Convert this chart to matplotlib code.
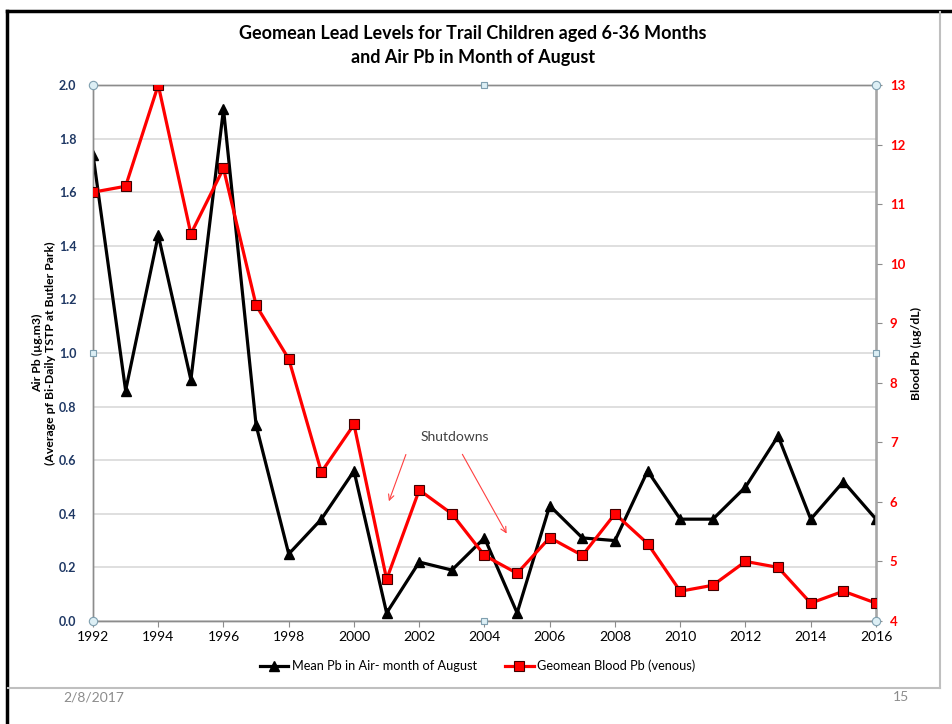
import numpy as np
import matplotlib
matplotlib.use('Agg')
import matplotlib.pyplot as plt
from matplotlib.lines import Line2D

plt.rcParams['font.family'] = ['Lato', 'DejaVu Sans']

'''
DATA
'''
years = list(range(1992, 2017))
air_pb = [1.74, 0.86, 1.44, 0.90, 1.91, 0.73, 0.25, 0.38, 0.56, 0.03,
          0.22, 0.19, 0.31, 0.03, 0.43, 0.31, 0.30, 0.56, 0.38, 0.38,
          0.50, 0.69, 0.38, 0.52, 0.38]
blood_pb = [11.2, 11.3, 13.0, 10.5, 11.6, 9.3, 8.4, 6.5, 7.3, 4.7,
            6.2, 5.8, 5.1, 4.8, 5.4, 5.1, 5.8, 5.3, 4.5, 4.6,
            5.0, 4.9, 4.3, 4.5, 4.3]
left_ticks = [0.0, 0.2, 0.4, 0.6, 0.8, 1.0, 1.2, 1.4, 1.6, 1.8, 2.0]
right_ticks = [4, 5, 6, 7, 8, 9, 10, 11, 12, 13]
x_ticks = list(range(1992, 2017, 2))

W, H = 953, 724
fig = plt.figure(figsize=(W/100, H/100), dpi=100)

def fx(px):
    return px/W

def fy(py):
    return 1 - py/H

ax = fig.add_axes([fx(93), fy(621), fx(876)-fx(93), fy(85)-fy(621)])
ax2 = ax.twinx()

# black series (left axis)
l1, = ax.plot(years, air_pb, color='black', lw=2.3, marker='^', ms=7,
              label='Mean Pb in Air- month of August', zorder=3)
# red series (right axis)
l2, = ax2.plot(years, blood_pb, color='#FF0000', lw=2.3, marker='s', ms=6.5,
               mfc='#FF0000', mec='#400000', mew=0.8,
               label='Geomean Blood Pb (venous)', zorder=3)

ax.set_xlim(1992, 2016)
ax.set_ylim(0, 2.0)
ax2.set_ylim(4, 13)
ax.set_xticks(x_ticks)
ax.set_yticks(left_ticks)
ax.set_yticklabels(['%.1f' % v for v in left_ticks])
ax2.set_yticks(right_ticks)

ax.yaxis.grid(True, color='#D9D9D9', lw=1.2)
ax.set_axisbelow(True)

for a in (ax, ax2):
    for s in a.spines.values():
        s.set_color('#8C8C8C')
        s.set_linewidth(1.0)
ax2.spines['right'].set_linewidth(1.8)
ax2.spines['right'].set_color('#A6A6A6')

ax.tick_params(axis='x', colors='#8C8C8C', labelcolor='black', labelsize=10,
               length=4, direction='out')
ax.tick_params(axis='y', colors='#8C8C8C', labelcolor='#1F3864', labelsize=9,
               length=0, pad=12)
for t in ax.get_yticklabels():
    t.set_fontweight('bold')
ax2.tick_params(axis='y', colors='#8C8C8C', labelcolor='#FF0000', labelsize=9.5,
                length=4, pad=6)
for t in ax2.get_yticklabels():
    t.set_fontweight('bold')

ax.set_ylabel('Air Pb (\u00b5g.m3)\n(Average pf Bi-Daily TSTP at Butler Park)',
              fontsize=8.8, fontweight='bold', labelpad=2, linespacing=1.25)
ax2.set_ylabel('Blood Pb (\u00b5g/dL)', fontsize=8.8, fontweight='bold',
               labelpad=4)

# title
fig.text(fx(473), fy(45), 'Geomean Lead Levels for Trail Children aged 6-36 Months\nand Air Pb in Month of August',
         ha='center', va='center', fontsize=13, fontweight='bold',
         linespacing=1.5)

# annotation
ax.text(2003.1, 0.687, 'Shutdowns', ha='center', va='center', fontsize=10,
        color='#404040')
ax.annotate('', xy=(2001.04, 0.437), xytext=(2001.62, 0.631),
            arrowprops=dict(arrowstyle='->', color='#FF4040', lw=0.8))
ax.annotate('', xy=(2004.72, 0.317), xytext=(2003.28, 0.631),
            arrowprops=dict(arrowstyle='->', color='#FF4040', lw=0.8))

# selection handles of the plot area
hx = [0, 0, 1, 1]
hy = [0, 1, 0, 1]
ax2.plot(hx, hy, 'o', ms=6, mfc='#DDEFF5', mec='#7F9FAF', mew=0.8,
         transform=ax2.transAxes, clip_on=False, zorder=5)
sx = [0.5, 0.5, 0, 1]
sy = [0, 1, 0.5, 0.5]
ax2.plot(sx, sy, 's', ms=5, mfc='#DDEFF5', mec='#7F9FAF', mew=0.8,
         transform=ax2.transAxes, clip_on=False, zorder=5)

# legend
fig.legend(handles=[l1, l2], loc='center', bbox_to_anchor=(fx(478), fy(666)),
           ncol=2, frameon=False, fontsize=9.2, handlelength=2.2,
           columnspacing=2.2, handletextpad=0.3)

# slide frame
fig.add_artist(Line2D([fx(7), fx(7)], [0, fy(11)], color='black', lw=2.5))
fig.add_artist(Line2D([fx(7), 1], [fy(11), fy(11)], color='black', lw=2.5))
fig.add_artist(Line2D([fx(940), fx(940)], [fy(12), fy(688)], color='#BFBFBF', lw=1.5))
fig.add_artist(Line2D([fx(8), fx(940)], [fy(688), fy(688)], color='#BFBFBF', lw=1.5))

fig.text(fx(63), fy(697), '2/8/2017', ha='left', va='center', fontsize=10,
         color='#8C8C8C')
fig.text(fx(893), fy(697), '15', ha='left', va='center', fontsize=10,
         color='#8C8C8C')

fig.savefig('out.png', dpi=100)
